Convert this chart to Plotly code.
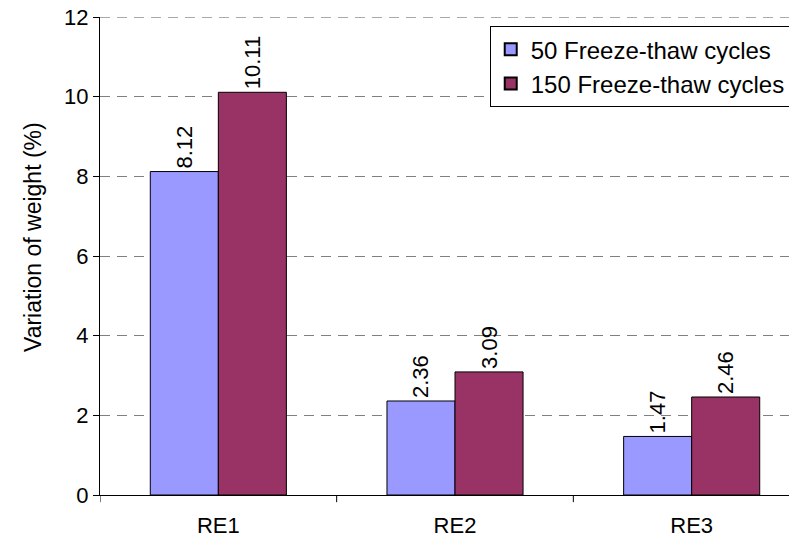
import plotly.graph_objects as go

categories = ["RE1", "RE2", "RE3"]
series_names = ["50 Freeze-thaw cycles", "150 Freeze-thaw cycles"]
values_50 = [8.12, 2.36, 1.47]
values_150 = [10.11, 3.09, 2.46]
y_ticks = [0, 2, 4, 6, 8, 10, 12]

colors = ["#9999FF", "#993366"]
font_family = "Liberation Sans, Arial, sans-serif"

fig = go.Figure()
for name, vals, col in zip(series_names, [values_50, values_150], colors):
    fig.add_trace(go.Bar(
        x=categories, y=vals, name=name,
        marker=dict(color=col, line=dict(color="black", width=1)),
        text=[f"{v:.2f}" for v in vals],
        textposition="outside", textangle=-90,
        textfont=dict(size=22, color="black", family=font_family),
        cliponaxis=False,
    ))

fig.update_layout(
    width=789, height=536,
    margin=dict(l=92, r=0, t=9, b=49),
    paper_bgcolor="white", plot_bgcolor="white",
    barmode="group", bargap=0.425, bargroupgap=0,
    font=dict(family=font_family, size=22, color="black"),
    showlegend=True,
    legend=dict(
        x=0.991, y=0.981, xanchor="right", yanchor="top",
        bgcolor="white", bordercolor="black", borderwidth=1,
        font=dict(size=24, family=font_family),
        itemsizing="constant", tracegroupgap=0,
    ),
    xaxis=dict(
        range=[-0.5, 2.445],
        showline=True, linecolor="black", linewidth=1,
        ticks="", showgrid=False, automargin=False,
        tickfont=dict(size=22), ticklabelstandoff=11,
    ),
    yaxis=dict(
        range=[0, 12], tickvals=y_ticks,
        showline=True, linecolor="black", linewidth=1,
        ticks="outside", ticklen=6, tickcolor="black",
        showgrid=True, gridcolor="#808080", griddash="10px,7px", gridwidth=1,
        zeroline=False, ticklabeloverflow="allow", automargin=False,
        tickfont=dict(size=22),
    ),
    annotations=[dict(
        text="Variation of weight (%)", textangle=-90,
        xref="paper", yref="paper", x=-0.096, y=0.54,
        xanchor="center", yanchor="middle", showarrow=False,
        font=dict(size=23, family=font_family, color="black"),
    )],
)

# dashed line at the top of the value axis
fig.add_shape(type="line", xref="paper", yref="y", x0=0, x1=1, y0=y_ticks[-1], y1=y_ticks[-1],
              line=dict(color="#555555", width=1, dash="10px,7px"), layer="below")

# category boundary tick marks on the x axis
for b in [-0.5, 0.5, 1.5]:
    fig.add_shape(type="line", xref="x", yref="paper", x0=b, x1=b, y0=0, y1=-0.015,
                  line=dict(color="black", width=1))

fig.write_html("out.html")
